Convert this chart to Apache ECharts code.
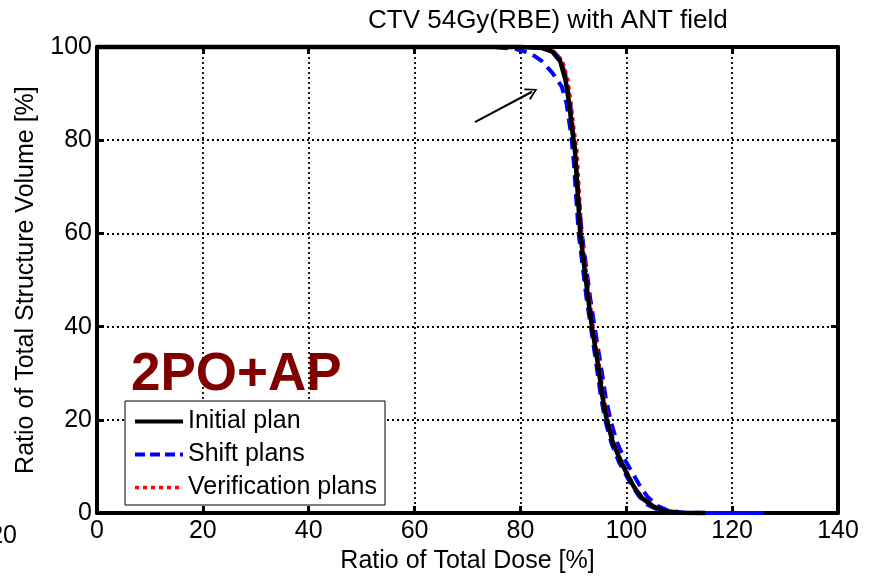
<!DOCTYPE html>
<html>
<head>
<meta charset="utf-8">
<script src="https://cdn.jsdelivr.net/npm/echarts@6/dist/echarts.min.js"></script>
<style>
html,body{margin:0;padding:0;background:#fff;}
#chart{width:873px;height:579px;}
</style>
</head>
<body>
<div id="chart"></div>
<script>
// ---- data (Ratio of Total Dose [%], Ratio of Total Structure Volume [%]) ----
var xTicks = [0, 20, 40, 60, 80, 100, 120, 140];
var yTicks = [0, 20, 40, 60, 80, 100];

var initialPlan = [[0,100],[80,100],[84,99.8],[86,99],[87.5,97],[88.5,93],[89.2,88],[89.8,82],[90.3,78],[91.3,60],[92.8,46],[93.5,40],[94.5,33],[95.5,25],[96.3,20],[97.5,15],[99,11],[100,8.7],[101.5,5.5],[103,3.2],[105,1.5],[107,0.5],[110,0.1],[115,0]];

var shiftPlanA = [[0,100],[75,100],[79,99.6],[82,98.6],[84,97],[86,94.5],[87.8,91.5],[88.7,88],[89.6,81],[90.1,75],[91,60],[92.5,46],[93.3,40],[94.2,33],[95.2,25],[96,20],[97.2,15],[98.6,11],[99.8,8.5],[101,6],[102.5,3.5],[104,1.8],[106,0.7],[108,0.2],[111,0],[126,0]];

var shiftPlanB = [[0,100],[80,100],[84,99.8],[86,99.2],[87.5,97.5],[88.5,94],[89.4,88],[90.1,80],[91.6,60],[93.2,46],[94,40],[95,33],[96.1,25],[97,20],[98.3,15],[99.7,11.5],[101,9],[102.5,6],[104,3.5],[106,1.5],[108,0.5],[111,0.1],[115,0],[126,0]];

var verificationPlan = [[0,100],[80,100],[84.5,99.8],[86.5,99],[88,97],[89,93],[89.6,88],[90.2,82],[90.7,78],[91.6,60],[93.1,46],[93.8,40],[94.8,33],[95.8,25],[96.6,20],[97.8,15],[99.2,11],[100.2,8.7],[101.7,5.5],[103.2,3.2],[105.2,1.5],[107.2,0.5],[110,0.1],[115,0]];

var arrowTail = [71.4, 83.9];
var arrowHead = [82.2, 90.4];

var titleText = 'CTV 54Gy(RBE) with ANT field';
var xName = 'Ratio of Total Dose [%]';
var yName = 'Ratio of Total Structure Volume [%]';
var annotationText = '2PO+AP';
var names = ['Initial plan', 'Shift plans', 'Verification plans'];

// ---- chart ----
var FONT = '"Liberation Sans", Arial, Helvetica, sans-serif';
var chart = echarts.init(document.getElementById('chart'), null, {renderer: 'canvas'});

var gridLine = {show: true, lineStyle: {color: '#000', width: 1.8, type: [2, 3]}};
var frameLine = {show: true, onZero: false, lineStyle: {color: '#000', width: 4}};
var tick = {show: true, inside: true, length: 7, lineStyle: {color: '#000', width: 3}};

var option = {
  animation: false,
  backgroundColor: '#fff',
  textStyle: {fontFamily: FONT},
  title: {
    text: titleText,
    left: 363, top: 3,
    textStyle: {fontFamily: FONT, fontSize: 26, fontWeight: 'normal', color: '#000'}
  },
  grid: {left: 97, right: 35, top: 47, bottom: 61, containLabel: false},
  legend: {
    data: [
      {name: names[0], lineStyle: {width: 4, type: 'solid', color: '#000'}},
      {name: names[1], lineStyle: {width: 4, type: [10, 5], color: '#0000ff'}},
      {name: names[2], lineStyle: {width: 3.5, type: [4, 4], color: '#ff0000'}}
    ],
    orient: 'vertical',
    left: 125, top: 401,
    itemWidth: 48, itemHeight: 14, itemGap: 8,
    padding: [8, 8, 5, 8],
    borderColor: '#000', borderWidth: 1,
    backgroundColor: '#fff',
    itemStyle: {opacity: 0},
    textStyle: {fontFamily: FONT, fontSize: 25, color: '#000'},
    selectedMode: false
  },
  xAxis: [{
    type: 'value', min: 0, max: 140, interval: 20,
    position: 'bottom',
    name: xName, nameLocation: 'middle', nameGap: 34,
    nameTextStyle: {fontFamily: FONT, fontSize: 25, color: '#000'},
    axisLine: frameLine, axisTick: tick,
    axisLabel: {fontFamily: FONT, fontSize: 25, color: '#000', margin: 6},
    splitLine: gridLine
  }, {
    type: 'value', min: 0, max: 140, interval: 20,
    position: 'top',
    axisLine: frameLine, axisTick: tick,
    axisLabel: {show: false}, splitLine: {show: false}
  }],
  yAxis: [{
    type: 'value', min: 0, max: 100, interval: 20,
    position: 'left',
    name: yName, nameLocation: 'middle', nameGap: 58,
    nameTextStyle: {fontFamily: FONT, fontSize: 25, color: '#000'},
    axisLine: frameLine, axisTick: tick,
    axisLabel: {fontFamily: FONT, fontSize: 25, color: '#000', margin: 5},
    splitLine: gridLine
  }, {
    type: 'value', min: 0, max: 100, interval: 20,
    position: 'right',
    axisLine: frameLine, axisTick: tick,
    axisLabel: {show: false}, splitLine: {show: false}
  }],
  graphic: [{
    type: 'text', left: 131, top: 349, z: 50,
    style: {text: annotationText, fill: '#800000', font: 'bold 53px ' + FONT}
  }, {
    type: 'text', right: 856, top: 524, z: 50,
    style: {text: '20', fill: '#000', font: '25px ' + FONT, textAlign: 'right'}
  }],
  series: [{
    name: names[1], type: 'line', data: shiftPlanA, symbol: 'none', clip: false, z: 3,
    lineStyle: {color: '#0000ff', width: 4, type: [12, 7]}, itemStyle: {color: '#0000ff'}
  }, {
    name: names[1], type: 'line', data: shiftPlanB, symbol: 'none', clip: false, z: 3,
    lineStyle: {color: '#0000ff', width: 4, type: [12, 7]}, itemStyle: {color: '#0000ff'}
  }, {
    name: names[2], type: 'line', data: verificationPlan, symbol: 'none', clip: false, z: 4,
    lineStyle: {color: '#ff0000', width: 3, type: [4, 4]}, itemStyle: {color: '#ff0000'}
  }, {
    name: names[0], type: 'line', data: initialPlan, symbol: 'none', clip: false, z: 5,
    lineStyle: {color: '#000', width: 4.5, type: 'solid'}, itemStyle: {color: '#000'},
    markLine: {
      silent: true, animation: false,
      symbol: ['none', 'path://M0,12 L6,0 L12,12 L10.5,12.8 L6,3.5 L1.5,12.8 Z'],
      symbolSize: [13, 12],
      label: {show: false},
      lineStyle: {color: '#000', width: 2, type: 'solid'},
      data: [[{coord: arrowTail}, {coord: arrowHead}]]
    }
  }]
};
chart.setOption(option);
</script>
</body>
</html>
